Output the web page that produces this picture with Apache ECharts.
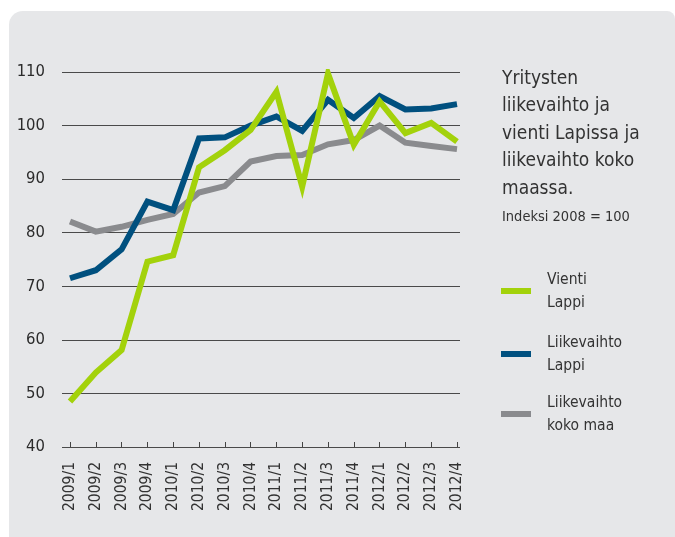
<!DOCTYPE html>
<html>
<head>
<meta charset="utf-8">
<script src="https://cdn.jsdelivr.net/npm/echarts@6/dist/echarts.min.js"></script>
<style>
html, body { margin: 0; padding: 0; background: #fff; }
#main { width: 675px; height: 537px; }
</style>
</head>
<body>
<div id="main"></div>
<script>
var categories = ['2009/1','2009/2','2009/3','2009/4','2010/1','2010/2','2010/3','2010/4',
    '2011/1','2011/2','2011/3','2011/4','2012/1','2012/2','2012/3','2012/4'];
var vientiLappi = [48.5, 53.9, 58.1, 74.6, 75.8, 92.2, 95.4, 99.2, 106.3, 88.6, 109.7, 96.4, 104.5, 98.6, 100.5, 97.0];
var liikevaihtoLappi = [71.5, 73.0, 76.9, 85.8, 84.2, 97.6, 97.8, 100.0, 101.7, 99.0, 104.8, 101.4, 105.5, 103.0, 103.2, 104.0];
var liikevaihtoKokoMaa = [82.1, 80.2, 81.1, 82.4, 83.5, 87.5, 88.7, 93.3, 94.3, 94.5, 96.5, 97.3, 100.0, 96.8, 96.2, 95.6];
var seriesNames = ['Vienti Lappi', 'Liikevaihto Lappi', 'Liikevaihto koko maa'];
var legendLines = {
    'Vienti Lappi': 'Vienti\nLappi',
    'Liikevaihto Lappi': 'Liikevaihto\nLappi',
    'Liikevaihto koko maa': 'Liikevaihto\nkoko maa'
};

var font = '"DejaVu Sans Condensed", "Liberation Sans Narrow", sans-serif';
var green = '#a3d20b';
var blue = '#00507f';
var gray = '#8a8b8e';

var myChart = echarts.init(document.getElementById('main'));

function legendFor(name, top) {
    return {
        data: [name],
        left: 501,
        top: top,
        padding: 0,
        icon: 'rect',
        itemWidth: 30,
        itemHeight: 6,
        selectedMode: false,
        formatter: function (n) { return legendLines[n]; },
        textStyle: {
            fontFamily: font,
            fontSize: 15.5,
            lineHeight: 23,
            color: '#333',
            padding: [23, 0, 0, 11]
        }
    };
}

var option = {
    backgroundColor: '#fff',
    animation: false,
    graphic: [{
        type: 'rect',
        z: -10,
        shape: { x: 9, y: 11, width: 666, height: 540, r: [14, 8, 0, 0] },
        style: { fill: '#e6e7e9' }
    }],
    title: [{
        text: 'Yritysten\nliikevaihto ja\nvienti Lapissa ja\nliikevaihto koko\nmaassa.',
        left: 502,
        top: 65,
        padding: 0,
        textStyle: {
            fontFamily: font,
            fontSize: 19,
            lineHeight: 27.5,
            fontWeight: 'normal',
            color: '#333'
        }
    }, {
        text: 'Indeksi 2008 = 100',
        left: 502,
        top: 210,
        padding: 0,
        textStyle: {
            fontFamily: font,
            fontSize: 14.5,
            fontWeight: 'normal',
            color: '#333'
        }
    }],
    legend: [
        legendFor(seriesNames[0], 256.5),
        legendFor(seriesNames[1], 319.5),
        legendFor(seriesNames[2], 379.5)
    ],
    grid: [
        { left: 62, right: 215, top: 72, bottom: 90 },  // gridlines
        { left: 70, right: 218, top: 72, bottom: 90 }   // data
    ],
    xAxis: [{
        gridIndex: 0,
        type: 'value',
        min: 0,
        max: 1,
        show: false
    }, {
        gridIndex: 1,
        type: 'category',
        data: categories,
        boundaryGap: false,
        axisLine: { show: false },
        axisTick: {
            show: true,
            inside: true,
            length: 5,
            alignWithLabel: true,
            lineStyle: { color: '#444', width: 1 }
        },
        axisLabel: {
            rotate: 90,
            margin: 15,
            interval: 0,
            fontFamily: font,
            fontSize: 15.5,
            color: '#333'
        },
        splitLine: { show: false }
    }],
    yAxis: [{
        gridIndex: 0,
        type: 'value',
        min: 40,
        max: 110,
        interval: 10,
        axisLine: { show: false },
        axisTick: { show: false },
        axisLabel: {
            margin: 17,
            fontFamily: font,
            fontSize: 16.5,
            color: '#2b2b2b'
        },
        splitLine: { lineStyle: { color: '#4a4a4a', width: 1 } }
    }, {
        gridIndex: 1,
        type: 'value',
        min: 40,
        max: 110,
        interval: 10,
        show: false,
        splitLine: { show: false }
    }],
    series: [{
        name: seriesNames[0],
        type: 'line',
        xAxisIndex: 1,
        yAxisIndex: 1,
        data: vientiLappi,
        symbol: 'none',
        color: green,
        z: 4,
        lineStyle: { width: 6, color: green, join: 'miter' }
    }, {
        name: seriesNames[1],
        type: 'line',
        xAxisIndex: 1,
        yAxisIndex: 1,
        data: liikevaihtoLappi,
        symbol: 'none',
        color: blue,
        z: 3,
        lineStyle: { width: 6, color: blue, join: 'miter' }
    }, {
        name: seriesNames[2],
        type: 'line',
        xAxisIndex: 1,
        yAxisIndex: 1,
        data: liikevaihtoKokoMaa,
        symbol: 'none',
        color: gray,
        z: 2,
        lineStyle: { width: 6, color: gray, join: 'miter' }
    }]
};
myChart.setOption(option);
</script>
</body>
</html>
